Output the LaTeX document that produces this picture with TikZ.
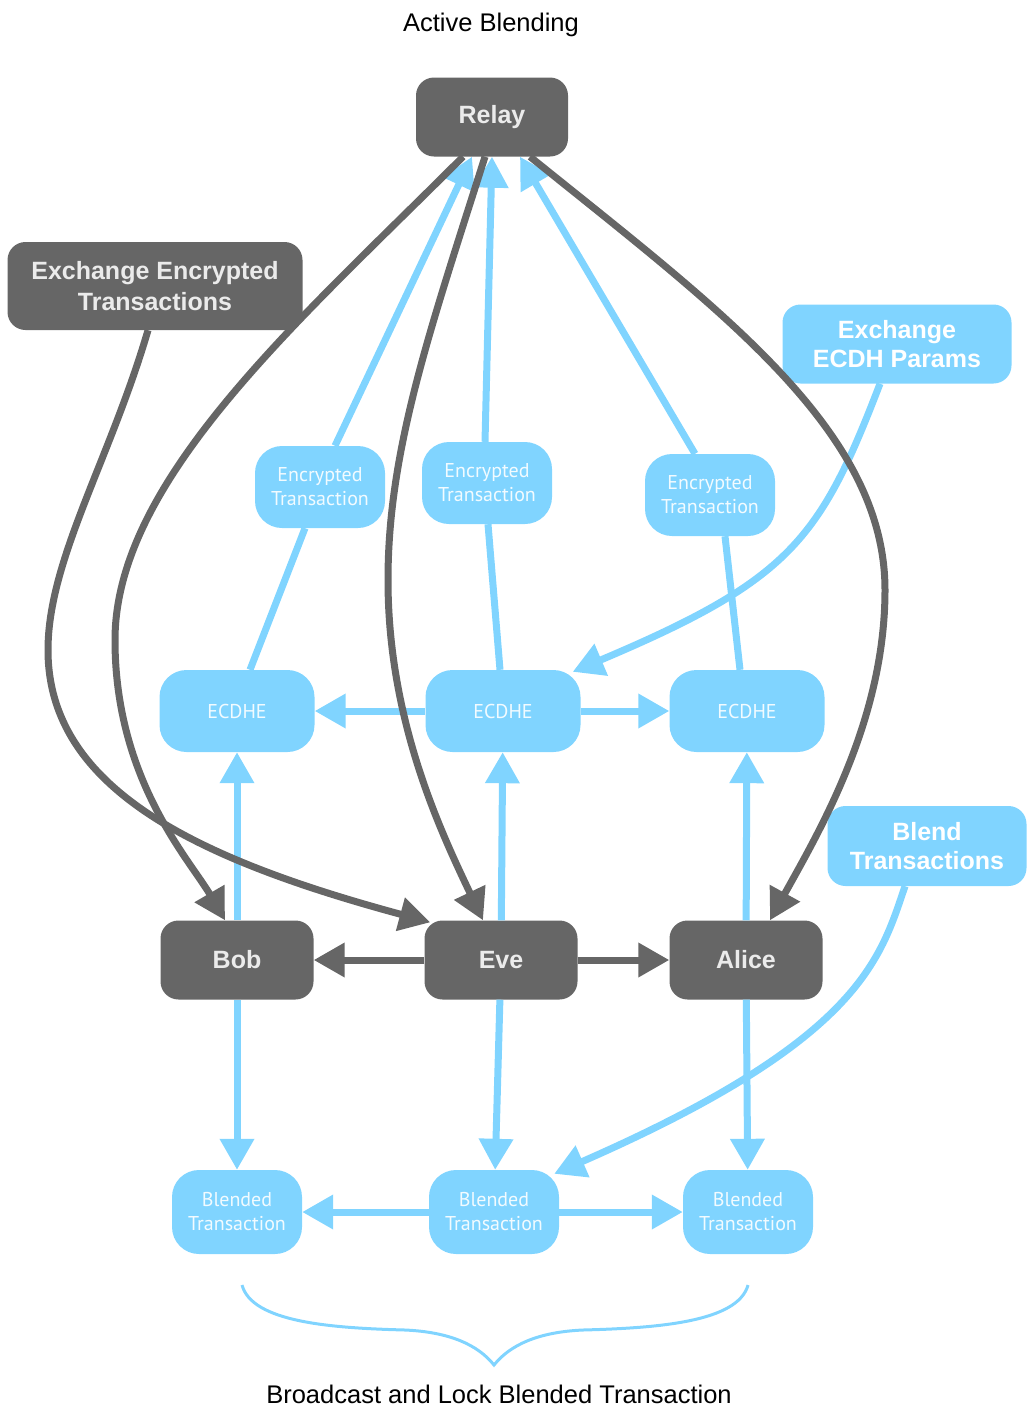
\documentclass[tikz,border=0pt]{standalone}
\usepackage{fontspec}
\setmainfont{Liberation Sans}
\newfontfamily\smallfont{PT Sans}
\usetikzlibrary{arrows.meta}
\definecolor{darkbox}{HTML}{666666}
\definecolor{lightbox}{HTML}{80D4FF}
\tikzset{
  dark/.style={rectangle, rounded corners=18pt, fill=darkbox, text=white!92!black,
    font=\bfseries\fontsize{25}{31}\selectfont, align=center,
    minimum width=152pt, minimum height=79pt, inner sep=0pt},
  bigblue/.style={rectangle, rounded corners=18pt, fill=lightbox, text=white,
    font=\bfseries\fontsize{25}{29}\selectfont, align=center,
    minimum height=79pt, inner sep=0pt},
  pill/.style={rectangle, rounded corners=27pt, fill=lightbox,
    text=white!90!lightbox, font=\smallfont\fontsize{20}{24}\selectfont, align=center,
    minimum width=130pt, minimum height=82pt, inner sep=0pt},
  darkline/.style={draw=darkbox, line width=7pt, -{Triangle[length=31pt,width=33pt]}},
  blueline/.style={draw=lightbox, line width=7pt, -{Triangle[length=31pt,width=33pt]}},
}
\begin{document}
\begin{tikzpicture}[x=1pt,y=-1pt]
  \useasboundingbox (0,0) rectangle (1026,1414);
  \node (title) at (491,25) {\fontsize{25.5}{30}\selectfont Active Blending};
  \node (footer) at (499,1394) {\fontsize{25.5}{30}\selectfont Broadcast and Lock Blended Transaction};

  \node[dark] (relay) at (492,117) {Relay};
  \node[dark, minimum width=295pt, minimum height=88pt] (xenc) at (155,286) {Exchange Encrypted\\Transactions};
  \node[bigblue, minimum width=229pt] (xecdh) at (897,344) {Exchange\\ECDH Params};
  \node[bigblue, minimum width=199pt, minimum height=80pt] (blend) at (927,846) {Blend\\Transactions};

  \node[pill] (enc1) at (320,487) {Encrypted\\Transaction};
  \node[pill] (enc2) at (487,483) {Encrypted\\Transaction};
  \node[pill] (enc3) at (710,495) {Encrypted\\Transaction};

  \node[pill, minimum width=155pt] (ecdhe1) at (237,711) {ECDHE};
  \node[pill, minimum width=155pt] (ecdhe2) at (503,711) {ECDHE};
  \node[pill, minimum width=155pt] (ecdhe3) at (747,711) {ECDHE};

  \node[dark, minimum width=153pt] (bob) at (237,960) {Bob};
  \node[dark, minimum width=153pt] (eve) at (501,960) {Eve};
  \node[dark, minimum width=153pt] (alice) at (746,960) {Alice};

  \node[pill, minimum height=84pt] (bl1) at (237,1212) {Blended\\Transaction};
  \node[pill, minimum height=84pt] (bl2) at (494,1212) {Blended\\Transaction};
  \node[pill, minimum height=84pt] (bl3) at (748,1212) {Blended\\Transaction};

  % blue links
  \begin{scope}[blueline]
    \draw ([xshift=15pt]enc1.north) -- ([xshift=-20pt]relay.south);
    \draw ([xshift=-2pt]enc2.north) -- (relay.south);
    \draw ([xshift=-15pt]enc3.north) -- ([xshift=28pt]relay.south);
    \draw[-] ([xshift=13pt]ecdhe1.north) -- ([xshift=-15pt]enc1.south);
    \draw[-] ([xshift=-3pt]ecdhe2.north) -- ([xshift=1pt]enc2.south);
    \draw[-] ([xshift=-7pt]ecdhe3.north) -- ([xshift=15pt]enc3.south);
    \draw (ecdhe2) -- (ecdhe1);
    \draw (ecdhe2) -- (ecdhe3);
    \draw (bob) -- (ecdhe1);
    \draw (eve) -- (ecdhe2);
    \draw (alice) -- (ecdhe3);
    \draw (bob) -- (bl1);
    \draw (eve) -- (bl2);
    \draw (alice) -- (bl3);
    \draw (bl2) -- (bl1);
    \draw (bl2) -- (bl3);
    \draw ([xshift=-17pt]xecdh.south) .. controls (820,540) and (790,580) .. ([xshift=-8pt,yshift=-2pt]ecdhe2.north east);
    \draw ([xshift=-22pt]blend.south) .. controls (880,960) and (860,1040) .. ([xshift=-5pt,yshift=-4pt]bl2.north east);
  \end{scope}

  % dark links
  \begin{scope}[darkline]
    \draw ([xshift=-29pt]relay.south) .. controls (300,320) and (115,480) .. (115,640)
      .. controls (115,780) and (190,860) .. ([xshift=-12pt]bob.north);
    \draw ([xshift=-7pt]relay.south) .. controls (430,330) and (388,450) .. (388,580)
      .. controls (388,720) and (440,830) .. ([xshift=-18pt]eve.north);
    \draw ([xshift=38pt]relay.south) .. controls (720,310) and (885,430) .. (885,590)
      .. controls (885,720) and (820,830) .. ([xshift=24pt]alice.north);
    \draw ([xshift=-7pt]xenc.south) .. controls (110,460) and (48,560) .. (48,650)
      .. controls (48,790) and (200,860) .. ([xshift=6pt,yshift=-2pt]eve.north west);
    \draw (eve) -- (bob);
    \draw (eve) -- (alice);
  \end{scope}

  % brace
  \draw[lightbox, line width=3pt] (242,1285) .. controls (252,1322) and (330,1328) .. (405,1330)
    .. controls (450,1332) and (478,1345) .. (494,1365)
    .. controls (510,1345) and (538,1332) .. (583,1330)
    .. controls (658,1328) and (738,1322) .. (748,1285);
\end{tikzpicture}
\end{document}
